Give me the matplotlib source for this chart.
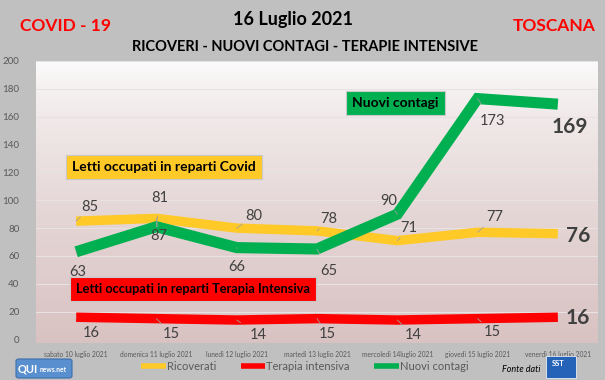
import numpy as np
import matplotlib
matplotlib.use('Agg')
import matplotlib.pyplot as plt
from matplotlib.patches import FancyBboxPatch, Rectangle

plt.rcParams['font.family'] = ['Lato', 'DejaVu Sans']

# Data
days = ['sabato 10 luglio 2021', 'domenica 11 luglio 2021', 'lunedì 12 luglio 2021',
        'martedì 13 luglio 2021', 'mercoledì 14luglio 2021', 'giovedì 15 luglio 2021',
        'venerdì 16 luglio 2021']
ricoverati = [85, 87, 80, 78, 71, 77, 76]
terapia = [16, 15, 14, 15, 14, 15, 16]
contagi = [63, 81, 66, 65, 90, 173, 169]

# label offsets in pixels (dx, dy)
off_ric = [(14, 14), (2, -18), (17, 12), (12, 12), (11, 13), (17, 15), (20, -2)]
off_con = [(2, -20), (3, 29), (0, -19), (12, -22), (-9, 13), (15, -22), (12, -23)]
off_ter = [(15, -16), (15, -15), (22, -15), (10, -15), (16, -15), (15, -13), (20, -1)]

W, H = 605, 380
fig = plt.figure(figsize=(W / 100, H / 100), dpi=100)
fig.patch.set_facecolor('#c0c0c0')

ax = fig.add_axes([36 / W, (H - 343) / H, (598 - 36) / W, (343 - 61) / H])
x = np.arange(len(days))

# gradient background
grad = np.linspace(0, 1, 256).reshape(-1, 1)
top = np.array([0.99, 0.99, 0.99])
bot = np.array([0.85, 0.76, 0.76])
img = top + (bot - top) * grad[:, :, None] ** 0.7
ax.imshow(img, extent=[0, 1, 0, 1], transform=ax.transAxes, aspect='auto', zorder=0)

ax.set_xlim(-0.5, len(days) - 0.5)
ax.set_ylim(-2.5, 200)
ax.set_yticks(range(0, 201, 20))
for yv in range(20, 201, 20):
    ax.axhline(yv, color='#e8e2e2', lw=0.8, zorder=1)
for s in ax.spines.values():
    s.set_visible(False)
ax.set_xticks(x)
ax.set_xticklabels(days, fontsize=4.8, color='#595959')
ax.tick_params(axis='y', labelsize=7, colors='#595959', length=0, pad=12)
ax.tick_params(axis='x', length=0, pad=6)

l1, = ax.plot(x, ricoverati, color='#ffc928', lw=6.8, solid_capstyle='butt',
              solid_joinstyle='miter', zorder=3, label='Ricoverati')
l2, = ax.plot(x, terapia, color='#ff0000', lw=6.8, solid_capstyle='butt',
              solid_joinstyle='miter', zorder=3, label='Terapia intensiva')
l3, = ax.plot(x, contagi, color='#00b050', lw=8, solid_capstyle='butt',
              solid_joinstyle='miter', zorder=4, label='Nuovi contagi')


def labels(vals, offs):
    n = len(vals)
    for i, (v, o) in enumerate(zip(vals, offs)):
        last = i == n - 1
        ax.annotate(str(v), (x[i], v), xytext=o, textcoords='offset pixels',
                    ha='center', va='center',
                    fontsize=15 if last else 10.5,
                    fontweight='bold' if last else 'normal',
                    color='#404040', zorder=6,
                    arrowprops=None if last else dict(arrowstyle='-', color='#a0a0a0',
                                                      lw=0.6, shrinkA=6, shrinkB=0))


labels(ricoverati, off_ric)
labels(contagi, off_con)
labels(terapia, off_ter)

# text boxes
def box(px, py, text, color, size=10):
    fig.text(px / W, 1 - py / H, text, fontsize=size, fontweight='bold', color='black',
             ha='left', va='center', zorder=7,
             bbox=dict(boxstyle='square,pad=0.45', fc=color, ec='#c8c8c8', lw=0.8))


box(352, 103, 'Nuovi contagi', '#00b050')
box(72, 167, 'Letti occupati in reparti Covid', '#ffc928')
box(76, 289, 'Letti occupati in reparti Terapia Intensiva', '#ff0000', 9.2)

# titles
fig.text(293 / W, 1 - 19 / H, '16 Luglio 2021', fontsize=13, fontweight='bold',
         ha='center', va='center', color='black')
fig.text(305 / W, 1 - 47 / H, 'RICOVERI - NUOVI CONTAGI - TERAPIE INTENSIVE',
         fontsize=10.5, fontweight='bold', ha='center', va='center', color='black')
fig.text(65 / W, 1 - 26 / H, 'COVID - 19', fontsize=12.5, fontweight='bold',
         ha='center', va='center', color='#ff0000')
fig.text(554 / W, 1 - 26 / H, 'TOSCANA', fontsize=12.5, fontweight='bold',
         ha='center', va='center', color='#ff0000')

# legend
fig.legend(handles=[l1, l2, l3], loc='center', bbox_to_anchor=(305 / W, 1 - 366 / H),
           ncol=3, frameon=False, fontsize=8, handlelength=2.2, handletextpad=0.1,
           columnspacing=2.2, labelcolor='#595959')
for h in fig.legends[0].legend_handles:
    h.set_linewidth(4)

# logos
fig.patches.append(FancyBboxPatch((16 / W, 1 - 378 / H), 56 / W, 19 / H,
                                  boxstyle='round,pad=0,rounding_size=0.005',
                                  transform=fig.transFigure, fc='#5a8fcf', ec='#3d6fa8', lw=0.8))
fig.text(18 / W, 1 - 369 / H, 'QUI', fontsize=8, fontweight='bold', color='white',
         ha='left', va='center')
fig.text(40 / W, 1 - 370 / H, 'news.net', fontsize=4.8, fontweight='bold', color='white',
         ha='left', va='center')
fig.text(540 / W, 1 - 369 / H, 'Fonte dati', fontsize=6.5, style='italic',
         ha='right', va='center', color='black')
fig.patches.append(Rectangle((546 / W, 1 - 378 / H), 30 / W, 22 / H,
                             transform=fig.transFigure, fc='#2563b8', ec='white', lw=0.5))
fig.text(552 / W, 1 - 363 / H, 'SST', fontsize=5.5, fontweight='bold', color='white',
         ha='left', va='center')

fig.savefig('out.png', dpi=100, facecolor=fig.get_facecolor())
